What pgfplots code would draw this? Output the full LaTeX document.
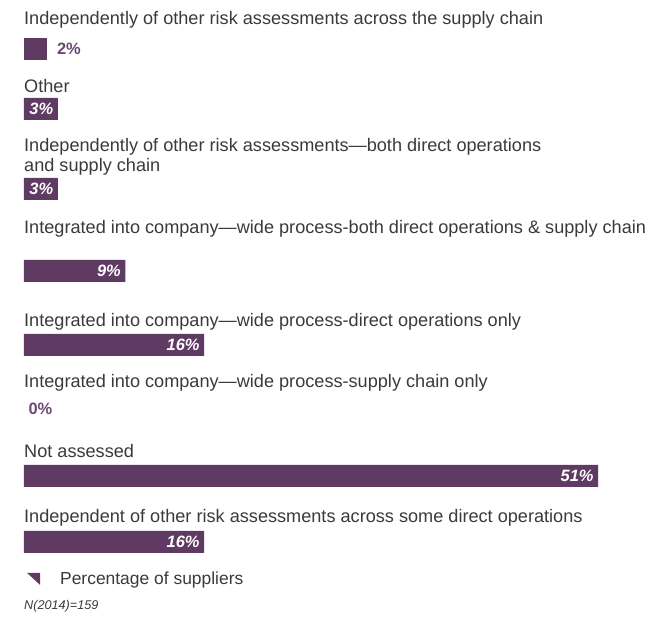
\documentclass[border=0pt]{standalone}
\usepackage{fontspec}
\setmainfont{Liberation Sans}
\usepackage{pgfplots}
\pgfplotsset{compat=1.18}
\definecolor{barc}{HTML}{5F3A62}
\definecolor{lblc}{HTML}{6A4872}
\definecolor{txtc}{HTML}{3A3A3A}

\begin{document}
\begin{tikzpicture}
\begin{axis}[
    scale only axis,
    width=655bp, height=617bp,
    hide axis,
    clip=false,
    /pgf/number format/assume math mode=true,
    xmin=-2.132, xmax=56.06,
    ymin=0, ymax=617,
    xbar, bar shift=0pt, bar width=22bp,
    legend style={at={(0.0366,0.0616)}, anchor=west, draw=none, fill=none,
        font=\fontsize{17.5}{21}\selectfont\color{txtc}},
    legend cell align=left,
]

% bars with the value written inside
\addplot[fill=barc, draw=none,
    point meta=x,
    nodes near coords={\pgfmathprintnumber{\pgfplotspointmeta}\%},
    every node near coord/.style={anchor=east, xshift=-1bp, text=white,
        font=\fontsize{16.5}{19}\selectfont\bfseries\itshape},
    legend image code/.code={\fill[barc] (0bp,6bp) -- (13bp,6bp) -- (13bp,-6bp) -- cycle;}
] coordinates {
    (3,508) (3,428) (9,346) (16,272) (51,141) (16,75)
};
\addlegendentry{\hspace{18bp}Percentage of suppliers}

% small bars, value written beside
\addplot[fill=barc, draw=none,
    point meta=x,
    nodes near coords={\pgfmathprintnumber{\pgfplotspointmeta}\%},
    every node near coord/.style={anchor=west, xshift=7bp, text=lblc,
        font=\fontsize{16.5}{19}\selectfont\bfseries},
    forget plot
] coordinates {
    (2,568)
};
\addplot[fill=none, draw=none,
    point meta=x,
    nodes near coords={\pgfmathprintnumber{\pgfplotspointmeta}\%},
    every node near coord/.style={anchor=west, xshift=1bp, text=lblc,
        font=\fontsize{16.5}{19}\selectfont\bfseries},
    forget plot
] coordinates {
    (0,208)
};

\begin{scope}[every node/.style={anchor=west, inner sep=0pt, text=txtc,
        font=\fontsize{18.2}{20}\selectfont}]
\node at (axis cs:-2.132,597) [xshift=24bp] {Independently of other risk assessments across the supply chain};
\node at (axis cs:-2.132,531) [xshift=24bp] {Other};
\node at (axis cs:-2.132,460.5) [xshift=24bp, align=left] {Independently of other risk assessments—both direct operations\\and supply chain};
\node at (axis cs:-2.132,388) [xshift=24bp] {Integrated into company—wide process-both direct operations \& supply chain};
\node at (axis cs:-2.132,295) [xshift=24bp] {Integrated into company—wide process-direct operations only};
\node at (axis cs:-2.132,234) [xshift=24bp] {Integrated into company—wide process-supply chain only};
\node at (axis cs:-2.132,166) [xshift=24bp] {Not assessed};
\node at (axis cs:-2.132,99) [xshift=24bp] {Independent of other risk assessments across some direct operations};
\node at (axis cs:-2.132,11) [xshift=24bp, font=\fontsize{12.7}{15}\selectfont\itshape] {N(2014)=159};
\end{scope}
\end{axis}
\pgfresetboundingbox
\path (0,0) rectangle (655bp,617bp);
\end{tikzpicture}
\end{document}
